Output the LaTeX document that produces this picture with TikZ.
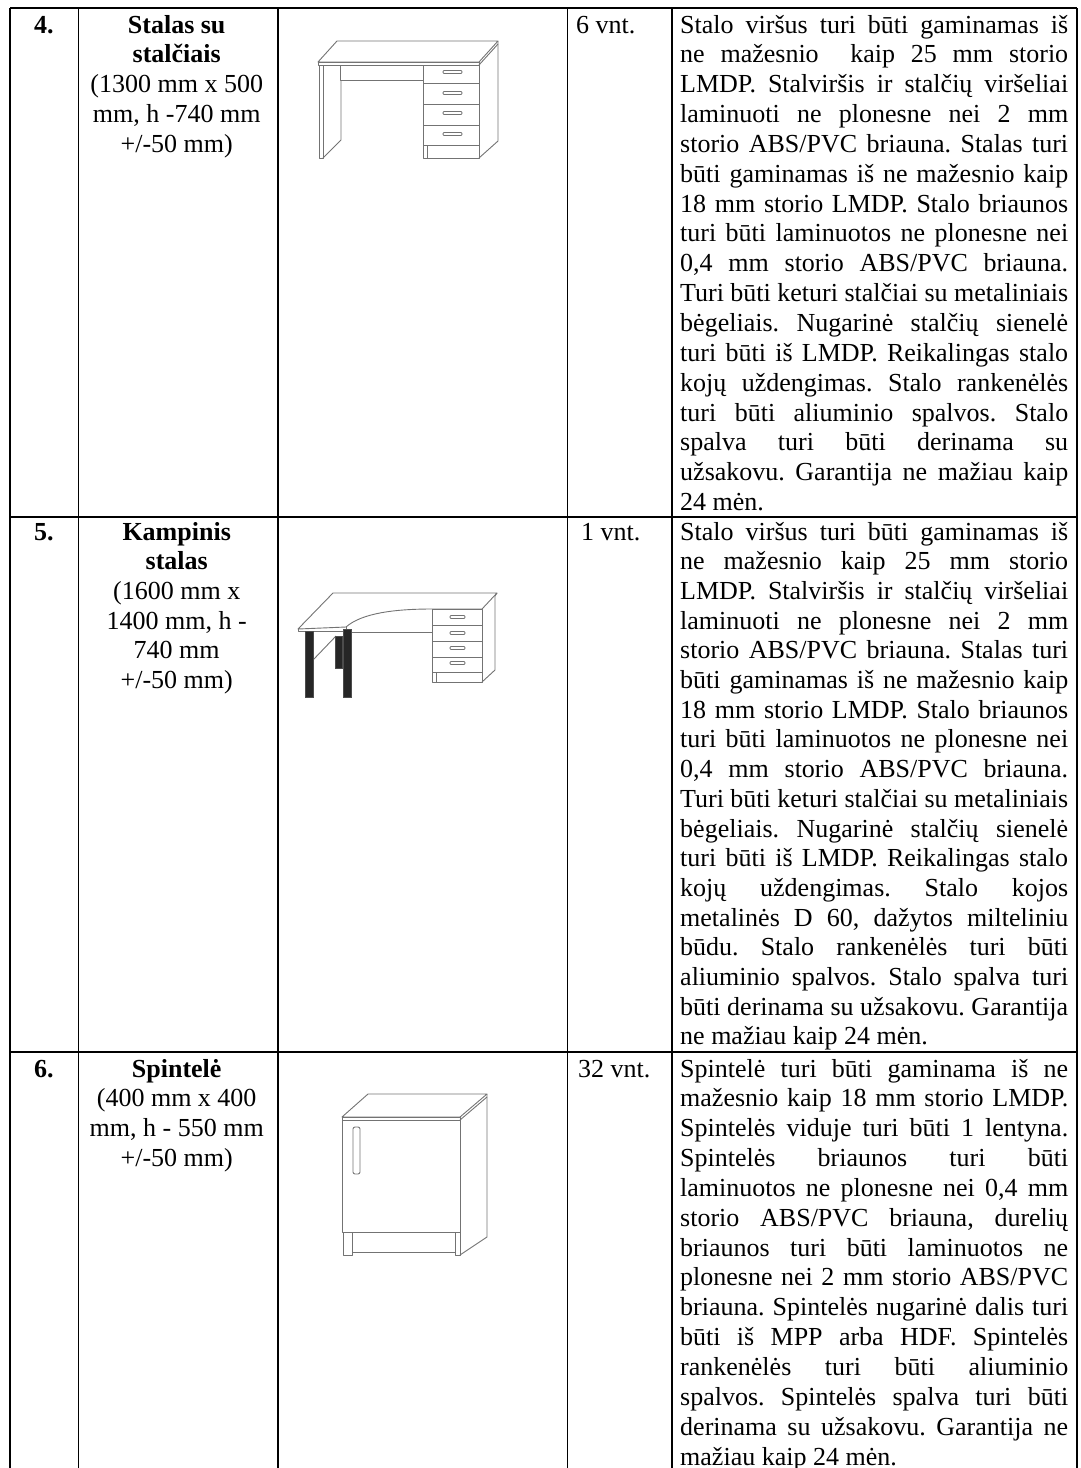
\documentclass[tikz,border=0pt]{standalone}
\usepackage{fontspec}
\setmainfont{Liberation Serif}
\frenchspacing
\newcommand\jl[1]{\hbox to 388pt{#1}}
\newcommand\lastl[1]{\hbox{#1}}
\newcommand\cl[1]{\hbox to 200pt{\hfil#1\hfil}}
\newcommand\txtblock[1]{\vtop{\fontsize{26}{29.85}\selectfont\frenchspacing\baselineskip=29.85pt #1}}
\newcommand\txtblockb[1]{\vtop{\fontsize{26}{29.7}\selectfont\frenchspacing\baselineskip=29.7pt #1}}
\tikzset{
  grid/.style={line width=1.6pt, black},
  furn/.style={line width=0.9pt, black!55, line join=round},
  leg/.style={fill=black!85, draw=black!70, line width=0.6pt},
  txt/.style={inner sep=0pt, anchor=base west, font=\fontsize{26}{29.85}\selectfont}
}
\begin{document}
\begin{tikzpicture}[x=1pt,y=-1pt]
\useasboundingbox (0,0) rectangle (1080,1468);
% ---------- table grid ----------
\coordinate (tl) at (10,8);
\coordinate (tr) at (1077,8);
\draw[grid] (tl) -- (tr);
\draw[grid] (10,517) -- (1077,517);
\draw[grid] (10,1052) -- (1077,1052);
\foreach \x in {10,78.5,278,567.5,672,1077}
  \draw[grid] (\x,8) -- (\x,1468);
% ---------- column 1: numbers ----------
\node[txt] (n4) at (34,33) {\bfseries 4.};
\node[txt] (n5) at (34,540) {\bfseries 5.};
\node[txt] (n6) at (34,1077) {\bfseries 6.};
% ---------- column 2: names ----------
\node[txt] (name4) at (76.5,33) {\txtblock{\cl{\bfseries Stalas su}\cl{\bfseries stalčiais}\cl{(1300 mm x 500}\cl{mm, h -740 mm}\cl{+/-50 mm)}}};
\node[txt] (name5) at (76.5,540) {\txtblockb{\cl{\bfseries Kampinis}\cl{\bfseries stalas}\cl{(1600 mm x}\cl{1400 mm, h -}\cl{740 mm}\cl{+/-50 mm)}}};
\node[txt] (name6) at (76.5,1077) {\txtblock{\cl{\bfseries Spintelė}\cl{(400 mm x 400}\cl{mm, h - 550 mm}\cl{+/-50 mm)}}};
% ---------- column 4: quantities ----------
\node[txt] (q4) at (576,33) {6 vnt.};
\node[txt] (q5) at (581,540) {1 vnt.};
\node[txt] (q6) at (578,1077) {32 vnt.};
% ---------- column 5: descriptions ----------
\node[txt] (d4) at (680,33) {\txtblock{%
\jl{Stalo viršus turi būti gaminamas iš}
\jl{ne mažesnio\ \ kaip 25 mm storio}
\jl{LMDP. Stalviršis ir stalčių viršeliai}
\jl{laminuoti ne plonesne nei 2 mm}
\jl{storio ABS/PVC briauna. Stalas turi}
\jl{būti gaminamas iš ne mažesnio kaip}
\jl{18 mm storio LMDP. Stalo briaunos}
\jl{turi būti laminuotos ne plonesne nei}
\jl{0,4 mm storio ABS/PVC briauna.}
\jl{Turi būti keturi stalčiai su metaliniais}
\jl{bėgeliais. Nugarinė stalčių sienelė}
\jl{turi būti iš LMDP. Reikalingas stalo}
\jl{kojų uždengimas. Stalo rankenėlės}
\jl{turi būti aliuminio spalvos. Stalo}
\jl{spalva turi būti derinama su}
\jl{užsakovu. Garantija ne mažiau kaip}
\lastl{24 mėn.}}};
\node[txt] (d5) at (680,540) {\txtblockb{%
\jl{Stalo viršus turi būti gaminamas iš}
\jl{ne mažesnio kaip 25 mm storio}
\jl{LMDP. Stalviršis ir stalčių viršeliai}
\jl{laminuoti ne plonesne nei 2 mm}
\jl{storio ABS/PVC briauna. Stalas turi}
\jl{būti gaminamas iš ne mažesnio kaip}
\jl{18 mm storio LMDP. Stalo briaunos}
\jl{turi būti laminuotos ne plonesne nei}
\jl{0,4 mm storio ABS/PVC briauna.}
\jl{Turi būti keturi stalčiai su metaliniais}
\jl{bėgeliais. Nugarinė stalčių sienelė}
\jl{turi būti iš LMDP. Reikalingas stalo}
\jl{kojų uždengimas. Stalo kojos}
\jl{metalinės D 60, dažytos milteliniu}
\jl{būdu. Stalo rankenėlės turi būti}
\jl{aliuminio spalvos. Stalo spalva turi}
\jl{būti derinama su užsakovu. Garantija}
\lastl{ne mažiau kaip 24 mėn.}}};
\node[txt] (d6) at (680,1077) {\txtblock{%
\jl{Spintelė turi būti gaminama iš ne}
\jl{mažesnio kaip 18 mm storio LMDP.}
\jl{Spintelės viduje turi būti 1 lentyna.}
\jl{Spintelės briaunos turi būti}
\jl{laminuotos ne plonesne nei 0,4 mm}
\jl{storio ABS/PVC briauna, durelių}
\jl{briaunos turi būti laminuotos ne}
\jl{plonesne nei 2 mm storio ABS/PVC}
\jl{briauna. Spintelės nugarinė dalis turi}
\jl{būti iš MPP arba HDF. Spintelės}
\jl{rankenėlės turi būti aliuminio}
\jl{spalvos. Spintelės spalva turi būti}
\jl{derinama su užsakovu. Garantija ne}
\lastl{mažiau kaip 24 mėn.}}};
% ---------- drawing 1: desk with drawers ----------
\begin{scope}[furn]
\draw (318,62) -- (337,41) -- (498,41) -- (479,62) -- cycle;
\draw (318,62) rectangle (479,65);
\draw (479,65) -- (498,44);
\draw (498,41) -- (498,141) -- (479,158);
\draw (319,65) rectangle (323,158);
\draw (341,80) -- (341,140) -- (323,158);
\draw (340,65) rectangle (423,80);
\draw (423,65) rectangle (479,158);
\foreach \y in {83,104,125,145} \draw (423,\y) -- (479,\y);
\foreach \y in {72,93,113,134} \draw[rounded corners=1pt] (443,\y-1.5) rectangle (462,\y+1.5);
\draw (427,145) -- (427,158);
\end{scope}
% ---------- drawing 2: corner desk ----------
\begin{scope}[furn]
\draw (298,629) -- (333,593) -- (497,593) -- (482,609) -- (432,609)
      .. controls (395,609) and (362,613) .. (346,627) -- cycle;
\draw (298,629) -- (298,631) -- (346,631) -- (346,627);
\draw (351,632) -- (432,632);
\draw (313,660) -- (336,636);
\draw (432,609) rectangle (482,682);
\foreach \y in {625,641,657,672} \draw (432,\y) -- (482,\y);
\foreach \y in {617,633,648,663} \draw[rounded corners=1pt] (450,\y-1.5) rectangle (465,\y+1.5);
\draw (497,593) -- (495,596) -- (495,670) -- (482,682);
\draw (436,672) -- (436,682);
\end{scope}
\draw[leg] (305,631) rectangle (313,697);
\draw[leg] (343,629) rectangle (351,697);
\draw[leg] (335,636) rectangle (342,668);
% ---------- drawing 3: cabinet ----------
\begin{scope}[furn]
\draw (342,1117) -- (368,1094) -- (487,1094) -- (460,1117) -- cycle;
\draw (342,1117) rectangle (460,1120);
\draw (460,1120) -- (487,1097);
\draw (342,1120) rectangle (460,1232);
\draw[rounded corners=2pt] (353,1127) rectangle (360,1174);
\draw (343,1232) rectangle (352,1255);
\draw (352,1252) -- (455,1252);
\draw (455,1232) -- (455,1255) -- (460,1255) -- (460,1232);
\draw (487,1094) -- (487,1237) -- (460,1255);
\end{scope}
\end{tikzpicture}
\end{document}
